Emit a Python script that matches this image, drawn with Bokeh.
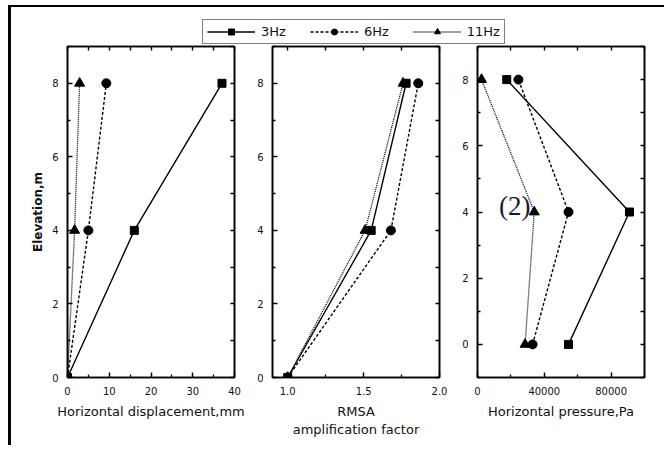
from bokeh.plotting import figure
from bokeh.models import (Range1d, LinearAxis, FixedTicker, PrintfTickFormatter,
                          Legend, LegendItem, Label)
from bokeh.layouts import row, column
from bokeh.embed import file_html
from bokeh.resources import INLINE

# ---- data ----
series_names = ["3Hz", "6Hz", "11Hz"]
elevation = [0, 4, 8]

disp_3hz = [0, 16, 37]
disp_6hz = [0, 5, 9.3]
disp_11hz = [0, 1.7, 2.9]

rmsa_3hz = [1.0, 1.55, 1.78]
rmsa_6hz = [1.0, 1.68, 1.86]
rmsa_11hz = [1.0, 1.51, 1.76]

press_3hz = [54500, 91000, 17500]
press_6hz = [33000, 54500, 24500]
press_11hz = [28500, 34000, 2400]

disp_ticks = [0, 10, 20, 30, 40]
disp_minor = [5, 15, 25, 35]
rmsa_ticks = [1.0, 1.5, 2.0]
rmsa_minor = [1.25, 1.75]
press_ticks = [0, 40000, 80000]
press_minor = [20000, 60000, 100000]
elev_ticks = [0, 2, 4, 6, 8]
elev_minor = [-1, 1, 3, 5, 7, 9]

annot_text = "(2)"
annot_x = 31700
annot_y = 4.18

# ---- styles ----
dashes = ["solid", "3 2", "1 1"]
markers = ["square", "circle", "triangle"]
msizes = [8, 9, 10]
line_widths = [1.4, 1.4, 1.3]

FONT = "DejaVu Sans"
TXT = "#111111"


def style_axis(ax):
    ax.major_tick_in = 5
    ax.major_tick_out = 0
    ax.minor_tick_in = 3
    ax.minor_tick_out = 0
    ax.axis_line_width = 1.6
    ax.axis_line_color = "black"
    ax.major_tick_line_width = 1.5
    ax.minor_tick_line_width = 1.3
    ax.major_label_text_font = FONT
    ax.major_label_text_font_size = "10px"
    ax.major_label_text_color = TXT
    ax.major_label_standoff = 9
    ax.axis_label_text_font = FONT
    ax.axis_label_text_font_style = "normal"
    ax.axis_label_text_color = TXT


def mirror_axis(ticks, minor):
    # mirrored axis without labels: all ticks drawn as (unlabelled) minor ticks
    ax = LinearAxis(ticker=FixedTicker(ticks=[], minor_ticks=sorted(list(ticks) + list(minor))))
    ax.major_tick_in = 0
    ax.major_tick_out = 0
    ax.minor_tick_in = 4
    ax.minor_tick_out = 0
    ax.minor_tick_line_width = 1.4
    ax.axis_line_width = 1.6
    ax.axis_line_color = "black"
    ax.major_label_standoff = 0
    return ax


def make_panel(xdata, xr, xticks, xminor, xfmt, yr, width, bl, br, xlabel, ylabel=None):
    p = figure(width=width, height=401, x_range=Range1d(*xr), y_range=Range1d(*yr),
               output_backend="svg", toolbar_location=None,
               min_border_left=bl, min_border_right=br, min_border_top=2,
               min_border_bottom=68)
    p.xgrid.visible = False
    p.ygrid.visible = False
    p.outline_line_color = "black"
    p.outline_line_width = 1.5
    p.xaxis.ticker = FixedTicker(ticks=xticks, minor_ticks=xminor)
    p.yaxis.ticker = FixedTicker(ticks=elev_ticks, minor_ticks=elev_minor)
    p.xaxis.formatter = PrintfTickFormatter(format=xfmt)
    for ax in p.xaxis + p.yaxis:
        style_axis(ax)
    p.xaxis.axis_label = xlabel
    p.xaxis.axis_label_text_font_size = "13px"
    p.xaxis.axis_label_standoff = 6
    if ylabel:
        p.yaxis.axis_label = ylabel
        p.yaxis.axis_label_text_font_size = "12px"
        p.yaxis.axis_label_text_font_style = "bold"
        p.yaxis.axis_label_standoff = 4
    p.add_layout(mirror_axis(xticks, xminor), "above")
    p.add_layout(mirror_axis(elev_ticks, elev_minor), "right")
    for xs, d, m, s, lw in zip(xdata, dashes, markers, msizes, line_widths):
        p.line(xs, elevation, line_dash=d, line_width=lw, color="black")
        p.scatter(xs, elevation, marker=m, size=s, color="black")
    return p


p1 = make_panel([disp_3hz, disp_6hz, disp_11hz], (0, 40), disp_ticks, disp_minor, "%d",
                (0, 9), 242, 56, 19, "Horizontal displacement,mm", "Elevation,m")
p2 = make_panel([rmsa_3hz, rmsa_6hz, rmsa_11hz], (0.9, 2.0), rmsa_ticks, rmsa_minor, "%.1f",
                (0, 9), 205, 19, 19, "RMSA\namplification factor")
p3 = make_panel([press_3hz, press_6hz, press_11hz], (0, 100000), press_ticks, press_minor, "%d",
                (-1, 9), 206, 19, 20, "Horizontal pressure,Pa")

p3.add_layout(Label(x=annot_x, y=annot_y, text=annot_text, text_align="right",
                    text_baseline="middle", text_font="Liberation Serif",
                    text_font_size="27px", text_color="#1a1a33"))

# ---- legend strip ----
lg = figure(width=653, height=37, x_range=Range1d(0, 1), y_range=Range1d(0, 1),
            output_backend="svg", toolbar_location=None, min_border=0,
            x_axis_location=None, y_axis_location=None)
lg.xgrid.visible = False
lg.ygrid.visible = False
lg.outline_line_color = None
items = []
for name, xs, d, m, s, lw in zip(series_names, [disp_3hz, disp_6hz, disp_11hz],
                                 dashes, markers, msizes, line_widths):
    r1 = lg.line(xs, elevation, line_dash=d, line_width=lw, color="black", visible=False)
    r2 = lg.scatter(xs, elevation, marker=m, size=s, color="black", visible=False)
    items.append(LegendItem(label=name, renderers=[r1, r2]))
legend = Legend(items=items, orientation="horizontal", location=(191, 0),
                glyph_width=48, glyph_height=15, label_height=15, label_standoff=6,
                spacing=24, padding=4, margin=0,
                label_text_font=FONT, label_text_font_size="13px", label_text_color=TXT,
                border_line_color="black", border_line_width=1.2,
                background_fill_color="white", background_fill_alpha=1.0)
lg.add_layout(legend)

layout = column(lg, row(p1, p2, p3, spacing=0), spacing=0, margin=(5, 0, 0, 8),
                styles={"border-left": "3px solid black", "border-top": "2px solid black"})

open("out.html", "w").write(file_html(layout, INLINE))
